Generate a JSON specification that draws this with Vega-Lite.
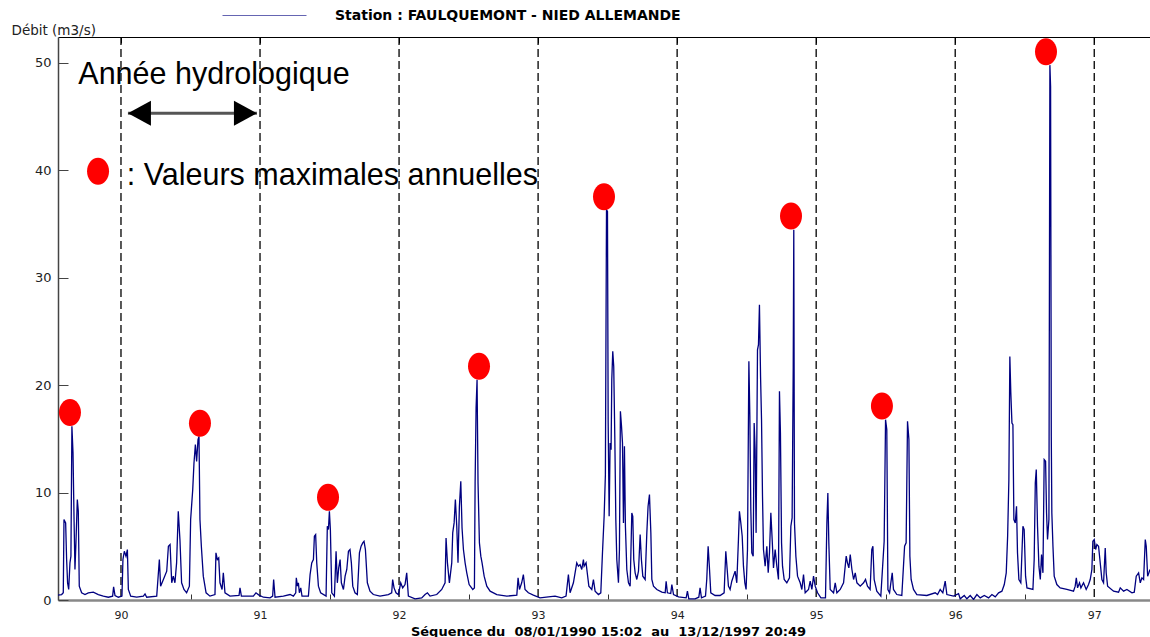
{
  "$schema": "https://vega.github.io/schema/vega-lite/v6.json",
  "width": 1092,
  "height": 563,
  "autosize": "none",
  "padding": {"left": 58, "top": 37, "right": 0, "bottom": 37},
  "background": "white",
  "config": {"view": {"stroke": null}, "axis": {"grid": false}},
  "datasets": {
    "flow": [
      {"t":89.547,"q":0.45},{"t":89.573,"q":0.51},{"t":89.585,"q":0.67},{"t":89.590,"q":7.49},{"t":89.602,"q":7.18},{"t":89.609,"q":3.77},{"t":89.616,"q":1.6},{"t":89.624,"q":0.98},{"t":89.633,"q":3.46},{"t":89.640,"q":4.08},{"t":89.647,"q":16.17},{"t":89.655,"q":13.69},{"t":89.662,"q":7.8},{"t":89.669,"q":2.84},{"t":89.676,"q":5.3},{"t":89.686,"q":9.35},{"t":89.693,"q":8.26},{"t":89.700,"q":1.29},{"t":89.717,"q":0.67},{"t":89.741,"q":0.51},{"t":89.765,"q":0.67},{"t":89.801,"q":0.73},{"t":89.837,"q":0.51},{"t":89.873,"q":0.36},{"t":89.909,"q":0.26},{"t":89.940,"q":0.36},{"t":89.947,"q":1.22},{"t":89.957,"q":0.42},{"t":89.981,"q":0.26},
      {"t":90.007,"q":0.36},{"t":90.014,"q":3.77},{"t":90.024,"q":4.54},{"t":90.036,"q":4.08},{"t":90.046,"q":4.7},{"t":90.053,"q":0.98},{"t":90.070,"q":0.36},{"t":90.113,"q":0.26},{"t":90.161,"q":0.36},{"t":90.173,"q":0.57},{"t":90.185,"q":0.26},{"t":90.257,"q":0.36},{"t":90.276,"q":3.77},{"t":90.285,"q":1.29},{"t":90.305,"q":1.91},{"t":90.329,"q":2.68},{"t":90.341,"q":5.01},{"t":90.353,"q":5.16},{"t":90.365,"q":1.6},{"t":90.376,"q":2.22},{"t":90.388,"q":1.6},{"t":90.400,"q":3.46},{"t":90.412,"q":8.26},{"t":90.424,"q":5.63},{"t":90.436,"q":1.6},{"t":90.453,"q":0.98},{"t":90.472,"q":0.67},{"t":90.492,"q":1.29},{"t":90.501,"q":7.49},{"t":90.516,"q":10.28},{"t":90.525,"q":12.76},{"t":90.535,"q":14.47},{"t":90.544,"q":12.91},{"t":90.554,"q":14.93},{"t":90.561,"q":15.24},{"t":90.568,"q":7.49},{"t":90.578,"q":5.01},{"t":90.592,"q":2.22},{"t":90.612,"q":0.67},{"t":90.640,"q":0.36},{"t":90.676,"q":0.51},{"t":90.683,"q":4.39},{"t":90.693,"q":3.77},{"t":90.703,"q":3.92},{"t":90.712,"q":1.6},{"t":90.727,"q":0.98},{"t":90.736,"q":2.53},{"t":90.748,"q":0.67},{"t":90.784,"q":0.36},{"t":90.849,"q":0.42},{"t":90.856,"q":1.13},{"t":90.866,"q":0.36},{"t":90.952,"q":0.36},{"t":90.971,"q":0.67},{"t":90.990,"q":0.48},
      {"t":91.024,"q":0.26},{"t":91.072,"q":0.2},{"t":91.091,"q":0.36},{"t":91.098,"q":1.91},{"t":91.108,"q":0.26},{"t":91.168,"q":0.36},{"t":91.216,"q":0.51},{"t":91.240,"q":0.36},{"t":91.257,"q":0.67},{"t":91.261,"q":2.06},{"t":91.269,"q":1.29},{"t":91.276,"q":1.6},{"t":91.283,"q":0.67},{"t":91.293,"q":1.13},{"t":91.302,"q":0.36},{"t":91.348,"q":0.36},{"t":91.360,"q":2.37},{"t":91.372,"q":3.46},{"t":91.384,"q":3.77},{"t":91.391,"q":5.94},{"t":91.400,"q":6.09},{"t":91.408,"q":3.46},{"t":91.420,"q":1.29},{"t":91.436,"q":0.67},{"t":91.475,"q":0.36},{"t":91.484,"q":6.87},{"t":91.492,"q":6.56},{"t":91.499,"q":8.26},{"t":91.506,"q":6.56},{"t":91.516,"q":0.67},{"t":91.535,"q":0.36},{"t":91.547,"q":4.54},{"t":91.556,"q":1.6},{"t":91.566,"q":2.99},{"t":91.576,"q":3.77},{"t":91.585,"q":1.6},{"t":91.600,"q":0.98},{"t":91.612,"q":2.22},{"t":91.624,"q":2.84},{"t":91.636,"q":4.54},{"t":91.647,"q":4.7},{"t":91.657,"q":3.46},{"t":91.667,"q":1.29},{"t":91.683,"q":0.67},{"t":91.700,"q":0.51},{"t":91.715,"q":4.39},{"t":91.727,"q":5.01},{"t":91.739,"q":5.32},{"t":91.748,"q":5.47},{"t":91.758,"q":4.7},{"t":91.772,"q":1.6},{"t":91.791,"q":0.82},{"t":91.815,"q":0.51},{"t":91.863,"q":0.36},{"t":91.923,"q":0.51},{"t":91.947,"q":0.67},{"t":91.954,"q":1.91},{"t":91.964,"q":1.13},{"t":91.978,"q":0.67},{"t":91.995,"q":0.51},
      {"t":92.012,"q":1.6},{"t":92.026,"q":1.13},{"t":92.043,"q":1.44},{"t":92.055,"q":2.53},{"t":92.067,"q":0.36},{"t":92.115,"q":0.11},{"t":92.163,"q":0.2},{"t":92.187,"q":0.51},{"t":92.204,"q":0.67},{"t":92.223,"q":0.36},{"t":92.271,"q":0.51},{"t":92.307,"q":0.98},{"t":92.331,"q":1.6},{"t":92.338,"q":5.78},{"t":92.348,"q":3.46},{"t":92.362,"q":1.6},{"t":92.379,"q":3.46},{"t":92.386,"q":6.25},{"t":92.396,"q":7.18},{"t":92.405,"q":9.35},{"t":92.415,"q":6.87},{"t":92.424,"q":3.46},{"t":92.434,"q":8.73},{"t":92.444,"q":11.05},{"t":92.453,"q":6.71},{"t":92.463,"q":4.7},{"t":92.475,"q":3.46},{"t":92.487,"q":2.53},{"t":92.504,"q":1.44},{"t":92.530,"q":0.98},{"t":92.542,"q":1.13},{"t":92.547,"q":10.9},{"t":92.554,"q":17.88},{"t":92.561,"q":20.51},{"t":92.568,"q":10.9},{"t":92.578,"q":5.32},{"t":92.588,"q":4.08},{"t":92.597,"q":3.46},{"t":92.612,"q":2.22},{"t":92.631,"q":1.29},{"t":92.655,"q":0.82},{"t":92.703,"q":0.51},{"t":92.775,"q":0.36},{"t":92.847,"q":0.45},{"t":92.856,"q":2.06},{"t":92.866,"q":0.98},{"t":92.882,"q":1.6},{"t":92.894,"q":2.37},{"t":92.906,"q":0.98},{"t":92.930,"q":0.67},{"t":92.966,"q":0.45},
      {"t":93.014,"q":0.2},{"t":93.074,"q":0.29},{"t":93.122,"q":0.36},{"t":93.170,"q":0.2},{"t":93.201,"q":0.36},{"t":93.218,"q":2.37},{"t":93.230,"q":0.67},{"t":93.254,"q":1.6},{"t":93.266,"q":2.53},{"t":93.278,"q":3.46},{"t":93.290,"q":3.15},{"t":93.302,"q":3.3},{"t":93.314,"q":2.84},{"t":93.326,"q":3.77},{"t":93.331,"q":3.15},{"t":93.345,"q":3.46},{"t":93.355,"q":2.37},{"t":93.365,"q":1.29},{"t":93.386,"q":0.98},{"t":93.398,"q":1.91},{"t":93.410,"q":0.82},{"t":93.434,"q":0.51},{"t":93.451,"q":0.67},{"t":93.463,"q":4.39},{"t":93.475,"q":7.8},{"t":93.484,"q":11.67},{"t":93.492,"q":36.33},{"t":93.499,"q":36.17},{"t":93.504,"q":16.48},{"t":93.511,"q":7.8},{"t":93.518,"q":14.62},{"t":93.525,"q":14.0},{"t":93.530,"q":20.51},{"t":93.537,"q":23.15},{"t":93.544,"q":21.75},{"t":93.552,"q":14.93},{"t":93.559,"q":7.49},{"t":93.566,"q":3.77},{"t":93.578,"q":1.6},{"t":93.585,"q":4.7},{"t":93.592,"q":17.57},{"t":93.600,"q":16.17},{"t":93.607,"q":14.62},{"t":93.614,"q":7.18},{"t":93.621,"q":14.31},{"t":93.628,"q":6.87},{"t":93.638,"q":2.84},{"t":93.650,"q":1.6},{"t":93.662,"q":1.29},{"t":93.674,"q":8.11},{"t":93.681,"q":7.8},{"t":93.688,"q":3.77},{"t":93.698,"q":2.53},{"t":93.710,"q":1.91},{"t":93.722,"q":2.68},{"t":93.734,"q":6.09},{"t":93.743,"q":3.77},{"t":93.753,"q":2.22},{"t":93.770,"q":1.91},{"t":93.782,"q":6.25},{"t":93.791,"q":8.73},{"t":93.801,"q":9.81},{"t":93.811,"q":6.25},{"t":93.818,"q":1.91},{"t":93.830,"q":1.29},{"t":93.854,"q":0.98},{"t":93.890,"q":0.73},{"t":93.914,"q":0.67},{"t":93.921,"q":1.75},{"t":93.930,"q":0.67},{"t":93.954,"q":0.6},{"t":93.962,"q":1.44},{"t":93.974,"q":0.51},
      {"t":94.010,"q":0.29},{"t":94.065,"q":0.2},{"t":94.074,"q":0.82},{"t":94.084,"q":0.11},{"t":94.129,"q":0.11},{"t":94.156,"q":0.26},{"t":94.165,"q":1.13},{"t":94.175,"q":0.2},{"t":94.204,"q":0.36},{"t":94.213,"q":1.91},{"t":94.223,"q":5.01},{"t":94.233,"q":2.84},{"t":94.242,"q":0.67},{"t":94.273,"q":0.42},{"t":94.309,"q":0.42},{"t":94.338,"q":0.67},{"t":94.350,"q":4.54},{"t":94.360,"q":2.84},{"t":94.369,"q":1.29},{"t":94.381,"q":0.98},{"t":94.393,"q":1.75},{"t":94.405,"q":2.22},{"t":94.417,"q":2.68},{"t":94.429,"q":1.6},{"t":94.441,"q":5.63},{"t":94.448,"q":8.26},{"t":94.458,"q":7.18},{"t":94.468,"q":5.94},{"t":94.477,"q":3.15},{"t":94.487,"q":1.6},{"t":94.496,"q":0.98},{"t":94.506,"q":4.7},{"t":94.516,"q":22.22},{"t":94.523,"q":17.1},{"t":94.530,"q":8.42},{"t":94.537,"q":4.39},{"t":94.547,"q":4.08},{"t":94.554,"q":16.48},{"t":94.561,"q":14.0},{"t":94.568,"q":6.25},{"t":94.578,"q":23.3},{"t":94.585,"q":23.77},{"t":94.592,"q":27.49},{"t":94.600,"q":20.82},{"t":94.607,"q":16.79},{"t":94.614,"q":9.66},{"t":94.621,"q":4.7},{"t":94.633,"q":3.15},{"t":94.645,"q":5.01},{"t":94.655,"q":2.53},{"t":94.664,"q":4.39},{"t":94.674,"q":8.11},{"t":94.683,"q":5.78},{"t":94.693,"q":2.99},{"t":94.705,"q":4.7},{"t":94.717,"q":3.15},{"t":94.729,"q":1.91},{"t":94.736,"q":19.43},{"t":94.743,"q":15.55},{"t":94.751,"q":5.32},{"t":94.758,"q":3.15},{"t":94.770,"q":1.91},{"t":94.789,"q":1.6},{"t":94.808,"q":2.06},{"t":94.818,"q":6.87},{"t":94.827,"q":7.64},{"t":94.835,"q":21.75},{"t":94.839,"q":34.47},{"t":94.844,"q":7.18},{"t":94.854,"q":4.08},{"t":94.866,"q":2.22},{"t":94.885,"q":1.6},{"t":94.897,"q":0.98},{"t":94.909,"q":2.37},{"t":94.921,"q":0.67},{"t":94.945,"q":0.98},{"t":94.957,"q":1.75},{"t":94.969,"q":0.98},{"t":94.981,"q":2.22},{"t":94.993,"q":1.29},
      {"t":95.010,"q":0.67},{"t":95.034,"q":0.2},{"t":95.067,"q":0.2},{"t":95.077,"q":7.18},{"t":95.084,"q":9.97},{"t":95.091,"q":5.32},{"t":95.101,"q":0.98},{"t":95.125,"q":0.67},{"t":95.137,"q":1.6},{"t":95.149,"q":0.67},{"t":95.173,"q":0.98},{"t":95.197,"q":1.6},{"t":95.216,"q":4.08},{"t":95.225,"q":3.46},{"t":95.235,"q":2.99},{"t":95.245,"q":4.23},{"t":95.257,"q":2.84},{"t":95.269,"q":1.91},{"t":95.281,"q":2.53},{"t":95.293,"q":1.6},{"t":95.317,"q":1.29},{"t":95.341,"q":1.6},{"t":95.355,"q":1.91},{"t":95.369,"q":1.29},{"t":95.388,"q":0.98},{"t":95.400,"q":4.7},{"t":95.408,"q":5.01},{"t":95.417,"q":1.91},{"t":95.436,"q":0.82},{"t":95.465,"q":0.36},{"t":95.489,"q":5.47},{"t":95.499,"q":16.79},{"t":95.508,"q":15.86},{"t":95.516,"q":0.98},{"t":95.528,"q":0.67},{"t":95.537,"q":1.6},{"t":95.547,"q":2.53},{"t":95.556,"q":0.98},{"t":95.580,"q":0.51},{"t":95.616,"q":0.42},{"t":95.636,"q":5.01},{"t":95.647,"q":5.32},{"t":95.657,"q":16.64},{"t":95.667,"q":14.93},{"t":95.674,"q":4.08},{"t":95.683,"q":1.91},{"t":95.700,"q":0.98},{"t":95.724,"q":0.51},{"t":95.796,"q":0.42},{"t":95.856,"q":0.67},{"t":95.873,"q":0.51},{"t":95.892,"q":0.98},{"t":95.911,"q":0.67},{"t":95.928,"q":1.75},{"t":95.940,"q":0.51},{"t":95.988,"q":0.36},
      {"t":96.024,"q":0.6},{"t":96.036,"q":0.11},{"t":96.065,"q":0.42},{"t":96.084,"q":0.11},{"t":96.108,"q":0.42},{"t":96.132,"q":0.05},{"t":96.156,"q":0.51},{"t":96.180,"q":0.2},{"t":96.209,"q":0.42},{"t":96.240,"q":0.2},{"t":96.264,"q":0.51},{"t":96.288,"q":0.29},{"t":96.312,"q":0.67},{"t":96.336,"q":0.82},{"t":96.353,"q":1.44},{"t":96.367,"q":2.53},{"t":96.377,"q":5.94},{"t":96.386,"q":11.21},{"t":96.393,"q":22.68},{"t":96.400,"q":19.27},{"t":96.408,"q":16.48},{"t":96.415,"q":16.33},{"t":96.422,"q":7.49},{"t":96.432,"q":7.18},{"t":96.441,"q":8.73},{"t":96.448,"q":4.39},{"t":96.458,"q":1.91},{"t":96.472,"q":1.6},{"t":96.487,"q":6.87},{"t":96.496,"q":6.56},{"t":96.506,"q":2.22},{"t":96.516,"q":1.13},{"t":96.559,"q":0.98},{"t":96.568,"q":3.77},{"t":96.576,"q":10.9},{"t":96.583,"q":12.14},{"t":96.592,"q":6.87},{"t":96.602,"q":3.15},{"t":96.612,"q":1.91},{"t":96.621,"q":4.23},{"t":96.631,"q":2.53},{"t":96.640,"q":13.07},{"t":96.650,"q":12.91},{"t":96.657,"q":8.11},{"t":96.664,"q":5.63},{"t":96.674,"q":7.49},{"t":96.681,"q":49.8},{"t":96.686,"q":47.8},{"t":96.691,"q":15.24},{"t":96.695,"q":8.11},{"t":96.703,"q":5.01},{"t":96.712,"q":2.22},{"t":96.731,"q":1.44},{"t":96.755,"q":1.13},{"t":96.803,"q":0.98},{"t":96.851,"q":0.82},{"t":96.863,"q":1.29},{"t":96.871,"q":2.06},{"t":96.880,"q":1.13},{"t":96.894,"q":1.6},{"t":96.904,"q":1.13},{"t":96.923,"q":1.6},{"t":96.942,"q":0.98},{"t":96.959,"q":1.44},{"t":96.971,"q":1.91},{"t":96.983,"q":2.84},{"t":96.990,"q":5.47},
      {"t":97.000,"q":5.63},{"t":97.010,"q":4.7},{"t":97.019,"q":5.16},{"t":97.031,"q":5.01},{"t":97.043,"q":3.46},{"t":97.055,"q":1.91},{"t":97.067,"q":1.6},{"t":97.079,"q":4.85},{"t":97.086,"q":2.53},{"t":97.096,"q":1.29},{"t":97.139,"q":0.82},{"t":97.175,"q":0.73},{"t":97.187,"q":1.13},{"t":97.211,"q":0.82},{"t":97.235,"q":0.98},{"t":97.271,"q":0.67},{"t":97.288,"q":0.73},{"t":97.302,"q":2.22},{"t":97.319,"q":2.53},{"t":97.331,"q":1.6},{"t":97.343,"q":2.06},{"t":97.355,"q":1.91},{"t":97.367,"q":5.63},{"t":97.374,"q":5.01},{"t":97.384,"q":2.22},{"t":97.393,"q":2.53},{"t":97.401,"q":2.84}
    ],
    "maxima": [
      {"t":89.633,"q":16.2},{"t":90.568,"q":15.2},{"t":91.489,"q":8.3},{"t":92.575,"q":20.5},
      {"t":93.474,"q":36.3},{"t":94.819,"q":34.5},{"t":95.473,"q":16.8},{"t":96.653,"q":49.8}
    ],
    "years": [{"y":90},{"y":91},{"y":92},{"y":93},{"y":94},{"y":95},{"y":96},{"y":97}],
    "notes": [
      {"t":89.693,"q":48.02,"label":"Année hydrologique"},
      {"t":90.041,"q":38.64,"label":": Valeurs maximales annuelles"}
    ],
    "span": [{"t0":90.05,"t1":90.978,"q":45.32}],
    "heads": [{"t":90.05,"q":45.32,"dir":"left"},{"t":90.978,"q":45.32,"dir":"right"}],
    "key": [{"t":89.835,"q":39.92}]
  },
  "layer": [
    {
      "data": {"name": "years"},
      "mark": {"type": "rule", "color": "#000000", "strokeWidth": 1.3, "strokeDash": [8, 4]},
      "encoding": {
        "x": {
          "field": "y", "type": "quantitative",
          "scale": {"domain": [89.547, 97.401], "nice": false, "zero": false},
          "axis": {
            "orient": "top", "values": [90, 91, 92, 93, 94, 95, 96, 97],
            "labels": false, "title": null, "tickSize": -6, "tickColor": "#000000",
            "domainColor": "#000000", "domainWidth": 1.2
          }
        }
      }
    },
    {
      "data": {"name": "flow"},
      "mark": {"type": "line", "strokeWidth": 1.3, "clip": true},
      "encoding": {
        "x": {
          "field": "t", "type": "quantitative",
          "axis": {
            "orient": "bottom",
            "values": [90, 90.5, 91, 91.5, 92, 92.5, 93, 93.5, 94, 94.5, 95, 95.5, 96, 96.5, 97],
            "labelExpr": "datum.value % 1 === 0 ? datum.value : ''",
            "tickOpacity": {"condition": {"test": "datum.value % 1 === 0", "value": 0}, "value": 1},
            "tickSize": -6, "tickColor": "#333333",
            "domainColor": "#888888", "domainWidth": 2.5,
            "labelPadding": 15, "labelFont": "DejaVu Sans", "labelFontSize": 11, "labelColor": "#222222",
            "title": "Séquence du\u00a0 08/01/1990 15:02\u00a0 au\u00a0 13/12/1997 20:49",
            "titleFont": "DejaVu Sans", "titleFontSize": 13, "titleFontWeight": "bold", "titleColor": "#000000",
            "titleX": 550, "titleY": 35, "titleAlign": "center", "titleBaseline": "alphabetic"
          }
        },
        "y": {
          "field": "q", "type": "quantitative",
          "scale": {"domain": [0, 52.42], "nice": false},
          "axis": {
            "values": [0, 10, 20, 30, 40, 50],
            "tickSize": -10, "tickColor": "#444444",
            "domainColor": "#444444", "domainWidth": 1.5,
            "labelPadding": 17, "labelFont": "DejaVu Sans", "labelFontSize": 13, "labelColor": "#222222",
            "title": "Débit (m3/s)", "titleAngle": 0, "titleAlign": "left", "titleBaseline": "alphabetic",
            "titleX": -47, "titleY": -3, "titleFont": "DejaVu Sans", "titleFontSize": 13.5,
            "titleFontWeight": "normal", "titleColor": "#222222"
          }
        },
        "color": {
          "datum": "Station : FAULQUEMONT - NIED ALLEMANDE",
          "scale": {"range": ["#000080"]},
          "legend": {
            "orient": "none", "legendX": 164, "legendY": -64, "title": null, "padding": 0,
            "symbolType": "stroke", "symbolSize": 7056, "symbolStrokeWidth": 1, "symbolOpacity": 0.6,
            "labelFont": "DejaVu Sans", "labelFontSize": 14, "labelFontWeight": "bold",
            "labelColor": "#000000", "labelOffset": 28, "labelLimit": 0
          }
        }
      }
    },
    {
      "data": {"name": "span"},
      "mark": {"type": "rule", "color": "#555555", "strokeWidth": 3},
      "encoding": {
        "x": {"field": "t0", "type": "quantitative", "axis": null},
        "x2": {"field": "t1"},
        "y": {"field": "q", "type": "quantitative", "axis": null}
      }
    },
    {
      "data": {"name": "heads"},
      "mark": {"type": "point", "filled": true, "color": "#000000", "opacity": 1, "size": 625, "strokeWidth": 0},
      "encoding": {
        "x": {"field": "t", "type": "quantitative", "axis": null},
        "y": {"field": "q", "type": "quantitative", "axis": null},
        "shape": {
          "field": "dir", "type": "nominal", "legend": null,
          "scale": {"domain": ["left", "right"], "range": ["M0,0L1.84,-1L1.84,1Z", "M0,0L-1.84,-1L-1.84,1Z"]}
        }
      }
    },
    {
      "data": {"name": "maxima"},
      "mark": {
        "type": "point", "filled": true, "color": "#ff0000", "opacity": 1, "size": 729, "strokeWidth": 0,
        "shape": "M0,-2A0.815,1,0,1,1,0,0A0.815,1,0,1,1,0,-2Z"
      },
      "encoding": {
        "x": {"field": "t", "type": "quantitative", "axis": null},
        "y": {"field": "q", "type": "quantitative", "axis": null}
      }
    },
    {
      "data": {"name": "key"},
      "mark": {
        "type": "point", "filled": true, "color": "#ff0000", "opacity": 1, "size": 729, "strokeWidth": 0,
        "shape": "M0,-1A0.815,1,0,1,1,0,1A0.815,1,0,1,1,0,-1Z"
      },
      "encoding": {
        "x": {"field": "t", "type": "quantitative", "axis": null},
        "y": {"field": "q", "type": "quantitative", "axis": null}
      }
    },
    {
      "data": {"name": "notes"},
      "mark": {"type": "text", "align": "left", "baseline": "alphabetic", "font": "Liberation Sans", "fontSize": 30.5, "color": "#000000"},
      "encoding": {
        "x": {"field": "t", "type": "quantitative", "axis": null},
        "y": {"field": "q", "type": "quantitative", "axis": null},
        "text": {"field": "label"}
      }
    }
  ],
  "resolve": {"axis": {"x": "independent", "y": "independent"}}
}
